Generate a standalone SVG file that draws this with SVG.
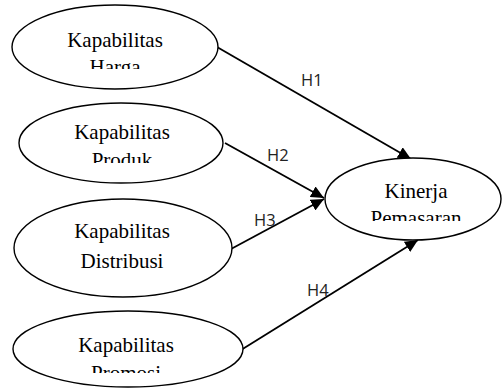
<svg xmlns="http://www.w3.org/2000/svg" width="502" height="388" viewBox="0 0 502 388">
<style>
.node ellipse{fill:#fff;stroke:#000;stroke-width:1.4}
.node text{font-family:"Liberation Serif","Times New Roman",serif;font-size:21px;fill:#000;text-anchor:middle}
.conn line{stroke:#000;stroke-width:1.8}
.lbl{font-family:"Open Sans","Liberation Sans",sans-serif;font-size:16.5px;fill:#222}
</style>
<defs>
<marker id="arr" markerUnits="userSpaceOnUse" markerWidth="14" markerHeight="12" refX="13" refY="6" orient="auto">
<path d="M0,0 L13,6 L0,12 Z" fill="#000"/>
</marker>
<clipPath id="c1"><rect x="0" y="0" width="250" height="69"/></clipPath>
<clipPath id="c2"><rect x="0" y="100" width="250" height="63"/></clipPath>
<clipPath id="c3"><rect x="300" y="150" width="202" height="71"/></clipPath>
<clipPath id="c4"><rect x="0" y="300" width="250" height="73"/></clipPath>
</defs>
<g class="conn">
<line x1="217" y1="47" x2="411" y2="159" marker-end="url(#arr)"/>
<line x1="225" y1="143" x2="324" y2="198" marker-end="url(#arr)"/>
<line x1="231" y1="249" x2="324" y2="199" marker-end="url(#arr)"/>
<line x1="241" y1="350" x2="418" y2="240" marker-end="url(#arr)"/>
<text class="lbl" x="301" y="86">H1</text>
<text class="lbl" x="267" y="161">H2</text>
<text class="lbl" x="254" y="226">H3</text>
<text class="lbl" x="307" y="296">H4</text>
</g>
<g id="harga" class="node">
<ellipse cx="115" cy="47" rx="103" ry="42"/>
<text x="115" y="47">Kapabilitas</text>
<text x="115" y="74" clip-path="url(#c1)">Harga</text>
</g>
<g id="produk" class="node">
<ellipse cx="121" cy="143" rx="102" ry="40"/>
<text x="122" y="139">Kapabilitas</text>
<text x="122" y="167" clip-path="url(#c2)">Produk</text>
</g>
<g id="distribusi" class="node">
<ellipse cx="123" cy="248" rx="109" ry="49"/>
<text x="122" y="238">Kapabilitas</text>
<text x="122" y="268">Distribusi</text>
</g>
<g id="promosi" class="node">
<ellipse cx="128" cy="349" rx="115" ry="38"/>
<text x="126" y="352">Kapabilitas</text>
<text x="126" y="380" clip-path="url(#c4)">Promosi</text>
</g>
<g id="kinerja" class="node">
<ellipse cx="413" cy="199" rx="88" ry="41"/>
<text x="416" y="198">Kinerja</text>
<text x="416" y="225" clip-path="url(#c3)">Pemasaran</text>
</g>
</svg>
